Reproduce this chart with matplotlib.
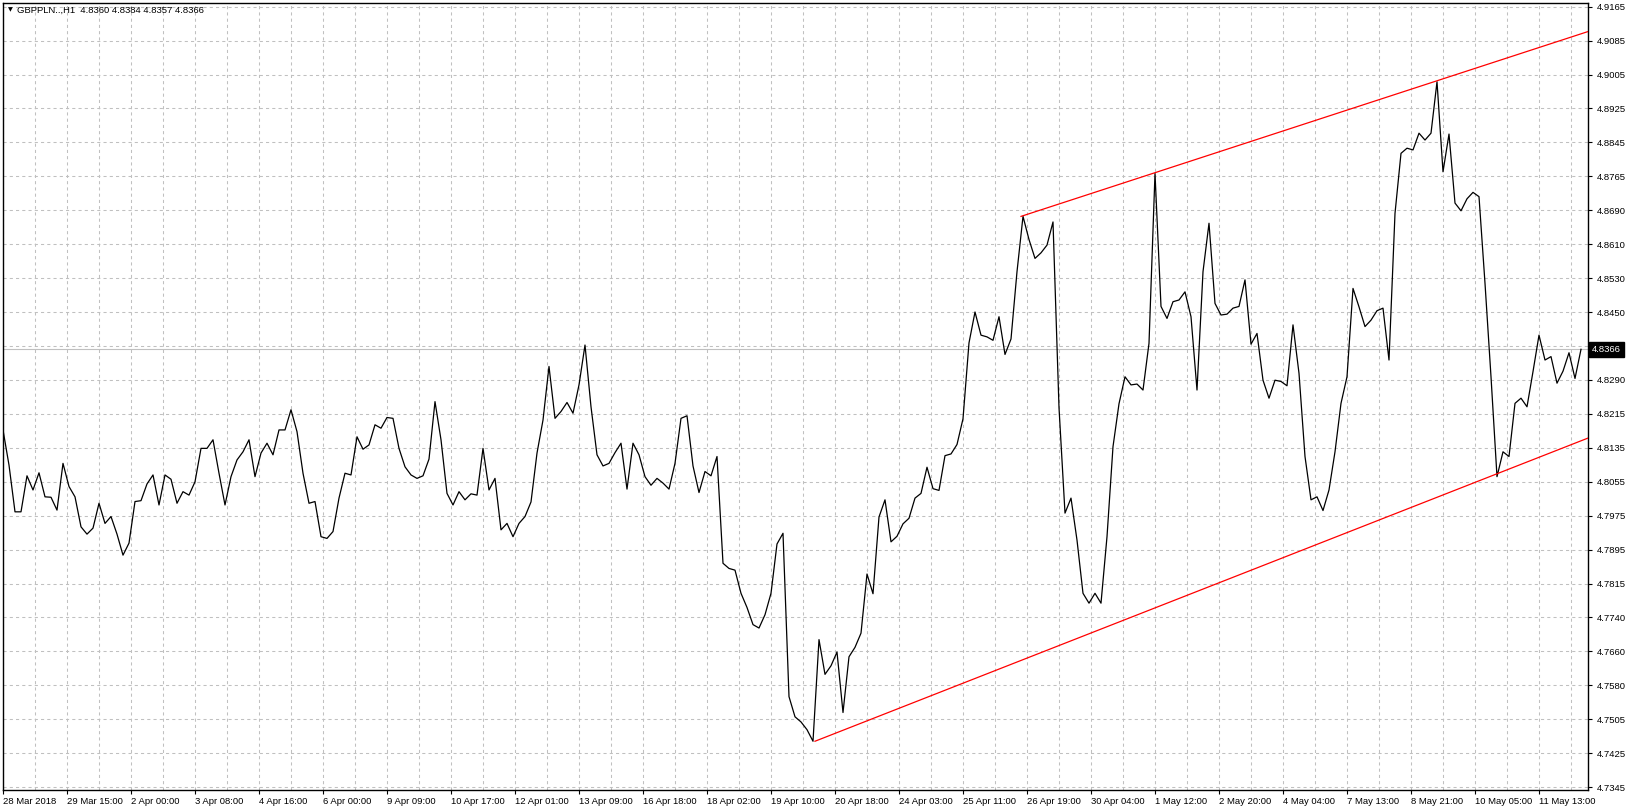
import matplotlib
matplotlib.use("Agg")
import matplotlib.pyplot as plt
import numpy as np

plt.rcParams['font.family'] = ['Liberation Sans', 'DejaVu Sans']

# GBPPLN H1 closes, one value every 3 bars
symbol = "GBPPLN..,H1"
ohlc = [4.8360, 4.8384, 4.8357, 4.8366]
step = 3
closes = [
    4.8178, 4.8096, 4.7987, 4.7987, 4.8071, 4.8038, 4.8078, 4.8022, 4.8021, 4.7991,
    4.8100, 4.8046, 4.8022, 4.7952, 4.7935, 4.7949, 4.8007, 4.7960, 4.7976, 4.7935,
    4.7886, 4.7914, 4.8011, 4.8013, 4.8052, 4.8073, 4.8003, 4.8073, 4.8063, 4.8007,
    4.8034, 4.8026, 4.8057, 4.8135, 4.8135, 4.8155, 4.8077, 4.8003, 4.8069, 4.8108,
    4.8127, 4.8155, 4.8069, 4.8124, 4.8147,
    4.8120, 4.8178, 4.8178, 4.8225, 4.8174, 4.8077, 4.8007, 4.8011, 4.7929, 4.7925,
    4.7941, 4.8019, 4.8077, 4.8073, 4.8162, 4.8133, 4.8143, 4.8190, 4.8182, 4.8207,
    4.8205, 4.8135, 4.8092, 4.8073, 4.8065, 4.8071, 4.8110, 4.8244, 4.8155, 4.8030,
    4.8003, 4.8034, 4.8015, 4.8029, 4.8026, 4.8135, 4.8038, 4.8065, 4.7945, 4.7960,
    4.7929, 4.7960, 4.7976, 4.8010,
    4.8124, 4.8201, 4.8326, 4.8205, 4.8221, 4.8242, 4.8217, 4.8283, 4.8376, 4.8232,
    4.8120, 4.8094, 4.8100, 4.8125, 4.8147, 4.8040, 4.8147, 4.8120, 4.8069, 4.8049,
    4.8065, 4.8054, 4.8040, 4.8100, 4.8205, 4.8211, 4.8094, 4.8032, 4.8081, 4.8071,
    4.8116, 4.7867, 4.7855, 4.7851, 4.7797, 4.7764, 4.7724, 4.7716, 4.7747, 4.7797,
    4.7912, 4.7937, 4.7556, 4.7509,
    4.7497, 4.7479, 4.7452, 4.7689, 4.7608, 4.7628, 4.7660, 4.7519, 4.7649, 4.7671,
    4.7704, 4.7842, 4.7796, 4.7975, 4.8015, 4.7917, 4.7930, 4.7959, 4.7972, 4.8019,
    4.8030, 4.8091, 4.8041, 4.8037, 4.8118, 4.8122, 4.8144, 4.8204, 4.8381, 4.8453,
    4.8399, 4.8395, 4.8387, 4.8442, 4.8354, 4.8390, 4.8547, 4.8676, 4.8622, 4.8578,
    4.8591, 4.8609, 4.8663, 4.8230,
    4.7984, 4.8019, 4.7921, 4.7797, 4.7774, 4.7797, 4.7774, 4.7929, 4.8139, 4.8239,
    4.8302, 4.8283, 4.8285, 4.8271, 4.8380, 4.8776, 4.8466, 4.8438, 4.8477, 4.8481,
    4.8500, 4.8442, 4.8271, 4.8547, 4.8660, 4.8473, 4.8446, 4.8448, 4.8462, 4.8466,
    4.8528, 4.8378, 4.8403, 4.8294, 4.8252, 4.8294, 4.8291, 4.8281, 4.8423, 4.8310,
    4.8116, 4.8015, 4.8022, 4.7990,
    4.8038, 4.8127, 4.8240, 4.8302, 4.8508, 4.8465, 4.8419, 4.8434, 4.8456, 4.8462,
    4.8341, 4.8683, 4.8823, 4.8835, 4.8831, 4.8870, 4.8854, 4.8870, 4.8990, 4.8780,
    4.8868, 4.8707, 4.8689, 4.8717, 4.8732, 4.8722, 4.8520, 4.8302, 4.8069, 4.8127,
    4.8116, 4.8240, 4.8252, 4.8232, 4.8314, 4.8399, 4.8341, 4.8349, 4.8287, 4.8315,
    4.8358, 4.8298, 4.8366,
]

# channel trendlines (bar index, price)
upper_x = [509, 792.5]
upper_y = [4.8676, 4.9107]
lower_x = [406, 792.5]
lower_y = [4.7452, 4.8159]

date_labels = ["28 Mar 2018", "29 Mar 15:00", "2 Apr 00:00", "3 Apr 08:00", "4 Apr 16:00",
               "6 Apr 00:00", "9 Apr 09:00", "10 Apr 17:00", "12 Apr 01:00", "13 Apr 09:00",
               "16 Apr 18:00", "18 Apr 02:00", "19 Apr 10:00", "20 Apr 18:00", "24 Apr 03:00",
               "25 Apr 11:00", "26 Apr 19:00", "30 Apr 04:00", "1 May 12:00", "2 May 20:00",
               "4 May 04:00", "7 May 13:00", "8 May 21:00", "10 May 05:00", "11 May 13:00"]
bars_per_label = 32

# the level under the current price box has no label of its own
price_labels = ["4.9165", "4.9085", "4.9005", "4.8925", "4.8845", "4.8765", "4.8690", "4.8610",
                "4.8530", "4.8450", "", "4.8290", "4.8215", "4.8135", "4.8055", "4.7975",
                "4.7895", "4.7815", "4.7740", "4.7660", "4.7580", "4.7505", "4.7425", "4.7345"]
price_top, price_bottom = 4.9165, 4.7345

W, H = 1628, 811
fig = plt.figure(figsize=(W / 100, H / 100), dpi=100)
ax = fig.add_axes([3 / W, 1 - 790 / H, 1585 / W, 787 / H])

x = np.arange(len(closes)) * step
ax.plot(x, closes, color='black', lw=0.9, zorder=3)
ax.plot(upper_x, upper_y, color='red', lw=0.9, zorder=4)
ax.plot(lower_x, lower_y, color='red', lw=0.9, zorder=4)

ax.set_xlim(0, 792.5)
ax.set_ylim(4.73383, 4.91736)

ypos = np.linspace(price_top, price_bottom, len(price_labels))
ax.set_yticks(ypos)
ax.set_yticklabels(price_labels)
ax.yaxis.tick_right()

xpos = np.arange(len(date_labels)) * bars_per_label
ax.set_xticks(xpos)
ax.set_xticklabels(date_labels, ha='left')
ax.set_xticks(np.arange(16, 793, 16), minor=True)

ax.grid(True, which='both', color='#c0c0c0', linestyle=(0, (3, 3)), lw=0.75, zorder=0)
ax.tick_params(axis='x', which='major', length=3, width=0.8, pad=2, labelsize=6.8, direction='out')
ax.tick_params(axis='x', which='minor', length=0)
ax.tick_params(axis='y', length=3, width=0.8, pad=3, labelsize=6.8, direction='out')
for s in ax.spines.values():
    s.set_color('black')
    s.set_linewidth(1.0)

last = closes[-1]
ax.axhline(last, color='#c0c0c0', lw=0.8, zorder=1)
ax.annotate(f"{last:.4f}", xy=(1, last), xycoords=('axes fraction', 'data'),
            xytext=(3, 0), textcoords='offset points', ha='left', va='center',
            color='white', fontsize=6.8,
            bbox=dict(boxstyle='square,pad=0.3', fc='black', ec='black'))

fig.text(8 / W, 1 - 10 / H, "\u25bc", fontsize=4.5, va='center', ha='left', family='DejaVu Sans')
fig.text(17 / W, 1 - 10 / H, symbol + "  " + " ".join(f"{v:.4f}" for v in ohlc),
         fontsize=6.8, va='center', ha='left')

fig.savefig("out.png", dpi=100, facecolor='white')
